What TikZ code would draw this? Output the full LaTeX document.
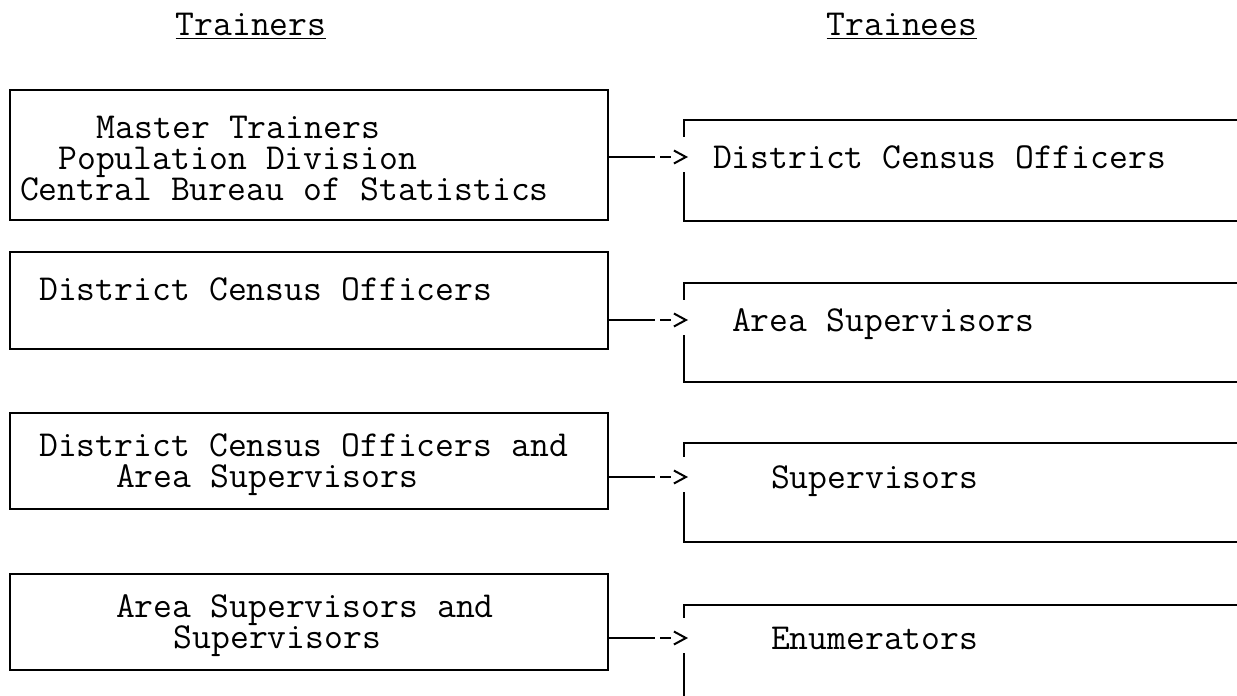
\documentclass[tikz,border=0pt]{standalone}
\usepackage{fontspec}
\usetikzlibrary{arrows.meta,calc}
\newcommand{\skipch}[1]{\hspace*{#1\dimexpr0.525em\relax}}
\newcommand{\typefont}{\ttfamily\fontsize{18.3pt}{15.4pt}\selectfont
  \spaceskip=0.525em\relax \lineskiplimit=-20pt\relax}

\begin{document}
\begin{tikzpicture}[x=0.5pt,y=-0.5pt,line width=1pt,
  every node/.style={font=\typefont},
  lbox/.style={draw,text width=289pt,inner xsep=5pt,inner ysep=0pt,align=left,
    execute at begin node={\spaceskip=0.525em\relax\xspaceskip=0.525em\relax\rule{0pt}{15pt}}},
  rframe/.style={anchor=north west,minimum width=290pt,inner sep=0pt},
  rtext/.style={anchor=west,inner sep=0pt,text height=11pt,text depth=0pt},
  feed/.style={dash pattern=on 23pt off 2.5pt on 5.5pt off 30pt,
    -{Straight Barb[length=6pt,width=6.5pt]},shorten >=-2pt}]
\useasboundingbox (0,0) rectangle (1237,696);

% headings
\node (trainers) [anchor=base] at (251,35) {\underline{Trainers}};
\node (trainees) [anchor=base] at (902,35) {\underline{Trainees}};

% trainers
\node (l1) [lbox,minimum height=65pt] at (309,155)
  {\skipch{4}Master Trainers\\ \skipch{2}Population Division\\ Central Bureau of Statistics};
\node (l2) [lbox,minimum height=48.5pt] at (309,300.5)
  {\skipch{1}District Census Officers\\ \mbox{}};
\node (l3) [lbox,minimum height=48pt] at (309,461)
  {\skipch{1}District Census Officers and\\ \skipch{5}Area Supervisors};
\node (l4) [lbox,minimum height=48pt] at (309,622)
  {\skipch{5}Area Supervisors and\\ \skipch{8}Supervisors};

% trainees
\node (r1) [rframe,minimum height=49.5pt] at (684,120) {};
\node (r2) [rframe,minimum height=48.5pt] at (684,283) {};
\node (r3) [rframe,minimum height=48.5pt] at (684,443) {};
\node (r4) [rframe,minimum height=80pt] at (684,605) {};
\node (t1) [rtext] at (712,157) {District Census Officers};
\node (t2) [rtext] at (731,320) {Area Supervisors};
\node (t3) [rtext] at (770,477) {Supervisors};
\node (t4) [rtext] at (770,638) {Enumerators};

\foreach \i in {1,...,4} {
  \draw (r\i.north east) -- (r\i.north west) -- ($(r\i.west |- t\i.west)+(0,10pt)$);
  \draw ($(r\i.west |- t\i.west)-(0,7.5pt)$) -- (r\i.south west) -- (r\i.south east);
  \draw[feed] (l\i.east |- t\i.west) -- (r\i.west |- t\i.west);
}
\end{tikzpicture}
\end{document}
